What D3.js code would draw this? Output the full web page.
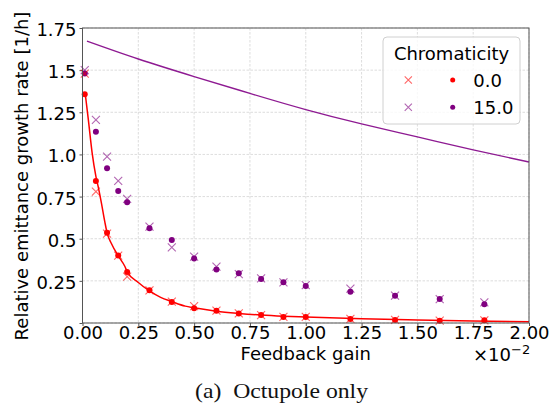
<!DOCTYPE html>
<html><head><meta charset="utf-8">
<script src="https://cdn.jsdelivr.net/npm/d3@7"></script>
<style>html,body{margin:0;padding:0;background:#fff;}svg{display:block;font-family:"DejaVu Sans",sans-serif;}</style>
</head><body><svg id="c" width="559" height="404"></svg>
<script>
// Feedback gain (x 1e-2) of simulated points
const gain = [0.01,0.06,0.11,0.16,0.2,0.3,0.4,0.5,0.6,0.7,0.8,0.9,1.0,1.2,1.4,1.6,1.8];
// Chromaticity 0.0
const chrom0Cross = [1.48,0.78,0.53,0.40,0.275,0.194,0.127,0.10,0.073,0.057,0.047,0.036,0.036,0.024,0.018,0.014,0.016];
const chrom0Dot   = [1.357,0.843,0.535,0.40,0.303,0.194,0.125,0.087,0.073,0.057,0.047,0.036,0.036,0.024,0.018,0.014,0.016];
// Chromaticity 15.0
const chrom15Cross = [1.50,1.205,0.987,0.843,0.736,0.572,0.449,0.394,0.334,0.29,0.265,0.241,0.225,0.204,0.162,0.142,0.123];
const chrom15Dot   = [1.48,1.135,0.918,0.783,0.716,0.562,0.493,0.382,0.318,0.295,0.261,0.241,0.22,0.186,0.162,0.142,0.111];
// Fitted curve, chromaticity 0.0
const fitX = [0.012,0.026,0.043,0.06,0.07,0.085,0.1,0.11,0.13,0.16,0.19,0.2,0.25,0.3,0.35,0.4,0.46,0.5,0.6,0.7,0.8,0.9,1.0,1.25,1.5,1.75,2.0];
const fitY = [1.363,1.208,1.011,0.87,0.81,0.71,0.60,0.535,0.47,0.398,0.335,0.305,0.24,0.19,0.152,0.127,0.10,0.09,0.07,0.057,0.047,0.04,0.035,0.025,0.018,0.012,0.008];
// Analytic curve, chromaticity 15.0
const lineX = [0.02,0.25,0.5,0.75,1.0,1.25,1.5,1.75,2.0];
const lineY = [1.672,1.566,1.462,1.362,1.266,1.181,1.104,1.027,0.955];
// Ticks
const xTicks = [0,0.25,0.5,0.75,1.0,1.25,1.5,1.75,2.0];
const xTickLabels = ["0.00","0.25","0.50","0.75","1.00","1.25","1.50","1.75","2.00"];
const yTicks = [0,0.25,0.5,0.75,1.0,1.25,1.5,1.75];
const yTickLabels = ["","0.25","0.5","0.75","1.0","1.25","1.5","1.75"];
const legendLabels = ["0.0","15.0"];

const RED = "#ff0000", PURPLE = "#800080", LINEPURPLE = "#8e1a92";
const svg = d3.select("#c");
svg.append("rect").attr("width",559).attr("height",404).attr("fill","#fff");
const L = 82.5, R = 529, T = 28, B = 323;
const x = d3.scaleLinear().domain([0,2]).range([L,R]);
const y = d3.scaleLinear().domain([0,1.75]).range([B,T]);

// grid
const g = svg.append("g");
g.selectAll("line.gx").data(xTicks).join("line")
  .attr("x1",d=>x(d)).attr("x2",d=>x(d)).attr("y1",T).attr("y2",B)
  .attr("stroke","#d4d4d4").attr("stroke-width",0.8).attr("stroke-dasharray","2.5,1.5");
g.selectAll("line.gy").data(yTicks).join("line")
  .attr("y1",d=>y(d)).attr("y2",d=>y(d)).attr("x1",L).attr("x2",R)
  .attr("stroke","#d4d4d4").attr("stroke-width",0.8).attr("stroke-dasharray","2.5,1.5");

// axes
const xAxis = d3.axisBottom(x).tickValues(xTicks).tickFormat((d,i)=>xTickLabels[i]).tickSize(3).tickPadding(1);
const yAxis = d3.axisLeft(y).tickValues(yTicks).tickFormat((d,i)=>yTickLabels[i]).tickSize(3).tickPadding(3);
const gx = svg.append("g").attr("transform",`translate(0,${B})`).call(xAxis);
const gy = svg.append("g").attr("transform",`translate(${L},0)`).call(yAxis);
[gx,gy].forEach(a=>{
  a.select(".domain").remove();
  a.selectAll(".tick line").attr("stroke","#555");
  a.selectAll(".tick text").attr("font-size",18).attr("fill","#000").attr("font-family","DejaVu Sans");
});
gy.selectAll(".tick text").attr("dy","0.42em");
gx.selectAll(".tick text").attr("dy","0.68em");

// lines
const lineGen = d3.line().curve(d3.curveNatural).x(d=>x(d[0])).y(d=>y(d[1]));
svg.append("path").attr("d",lineGen(lineX.map((v,i)=>[v,lineY[i]])))
  .attr("fill","none").attr("stroke",LINEPURPLE).attr("stroke-width",1.4);
const fitGen = d3.line().curve(d3.curveMonotoneX).x(d=>x(d[0])).y(d=>y(d[1]));
svg.append("path").attr("d",fitGen(fitX.map((v,i)=>[v,fitY[i]])))
  .attr("fill","none").attr("stroke",RED).attr("stroke-width",1.5);

// markers
function dots(vals,color,r){
  svg.append("g").selectAll("circle").data(vals).join("circle")
    .attr("cx",(d,i)=>x(gain[i])).attr("cy",d=>y(d)).attr("r",r).attr("fill",color);
}
function crosses(vals,color,s){
  const gg = svg.append("g").attr("stroke",color).attr("stroke-width",1.1).attr("opacity",0.6);
  gg.selectAll("path").data(vals).join("path")
    .attr("d",(d,i)=>{const cx=x(gain[i]),cy=y(d);return `M${cx-s},${cy-s}L${cx+s},${cy+s}M${cx-s},${cy+s}L${cx+s},${cy-s}`;});
}
dots(chrom15Dot,PURPLE,3);
dots(chrom0Dot,RED,3);
crosses(chrom15Cross,PURPLE,4);
crosses(chrom0Cross,RED,4);

// frame
svg.append("rect").attr("x",L).attr("y",T).attr("width",R-L).attr("height",B-T)
  .attr("fill","none").attr("stroke","#555").attr("stroke-width",1);

// legend
const lg = svg.append("g");
lg.append("rect").attr("x",383).attr("y",37).attr("width",137).attr("height",87).attr("rx",4)
  .attr("fill","#fff").attr("fill-opacity",0.8).attr("stroke","#d0d0d0").attr("stroke-width",1);
lg.append("text").attr("x",451.5).attr("y",60).attr("text-anchor","middle").attr("font-size",18).attr("fill","#000").text("Chromaticity");
const legColors=[RED,PURPLE], legY=[80,107.3];
legendLabels.forEach((lab,i)=>{
  const cy=legY[i], cx=408.3, s=3.6;
  lg.append("path").attr("d",`M${cx-s},${cy-s}L${cx+s},${cy+s}M${cx-s},${cy+s}L${cx+s},${cy-s}`)
    .attr("stroke",legColors[i]).attr("stroke-width",1.1).attr("opacity",0.6);
  lg.append("circle").attr("cx",452.7).attr("cy",cy).attr("r",2.5).attr("fill",legColors[i]);
  lg.append("text").attr("x",473.3).attr("y",cy+6.7).attr("font-size",18).attr("fill","#000").text(lab);
});

// labels
svg.append("text").attr("x",305.7).attr("y",360).attr("text-anchor","middle").attr("font-size",18).attr("fill","#000").text("Feedback gain");
const ex = svg.append("text").attr("x",473).attr("y",361).attr("font-size",18).attr("fill","#000");
ex.append("tspan").text("×10");
ex.append("tspan").attr("font-size",13).attr("dy",-7).text("−2");
svg.append("text").attr("transform","translate(28,176) rotate(-90)").attr("text-anchor","middle")
  .attr("font-size",18).attr("fill","#000").text("Relative emittance growth rate [1/h]");
svg.append("text").attr("x",195).attr("y",398).attr("font-family","'Liberation Serif',serif").attr("font-size",22).attr("fill","#111")
  .attr("textLength",173).attr("lengthAdjust","spacingAndGlyphs")
  .attr("xml:space","preserve").text("(a)  Octupole only");
</script></body></html>
